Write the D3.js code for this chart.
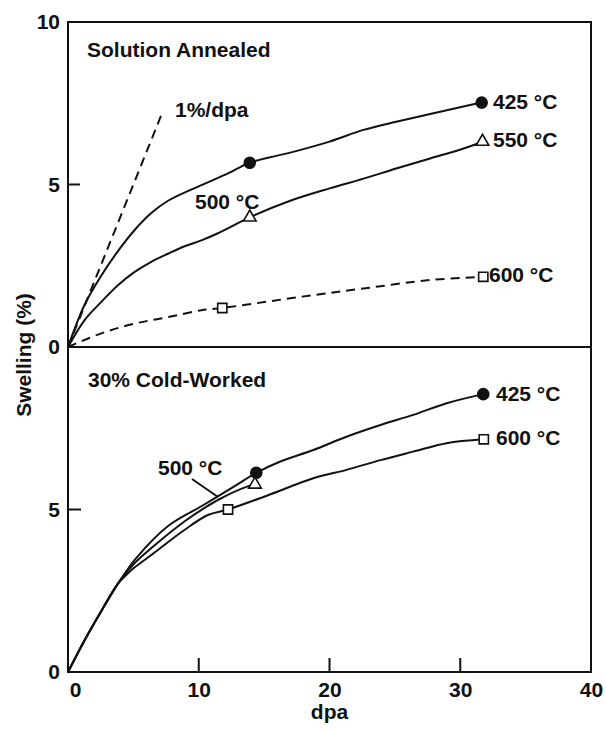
<!DOCTYPE html>
<html lang="en">
<head>
<meta charset="utf-8">
<title>Swelling vs dpa</title>
<script src="https://cdn.jsdelivr.net/npm/d3@7"></script>
<style>
  body { margin: 0; background: #fff; }
  text { font-family: "Liberation Sans", Arial, sans-serif; font-weight: bold; fill: #111; }
</style>
</head>
<body>
<script>
//----------------------------------------------------------------------------//
// Data (dpa, swelling %)

// Solution annealed
var sa425_x = [0, 1.27, 2.55, 3.82, 5.1, 6.37, 7.65, 10.2, 12.24, 13.9, 17, 20, 22.6, 25.1, 27.7, 31.6];
var sa425_y = [0, 1.3, 2.2, 2.95, 3.6, 4.12, 4.5, 4.98, 5.34, 5.67, 5.98, 6.32, 6.68, 6.93, 7.17, 7.52];

var sa500_x = [0, 1.27, 2.55, 3.82, 5.1, 6.37, 7.65, 8.92, 10.2, 11.47, 13.9, 17, 20, 22.6, 25.1, 27.7, 30.2, 31.6];
var sa500_y = [0, 0.83, 1.39, 1.9, 2.31, 2.62, 2.87, 3.1, 3.28, 3.5, 3.99, 4.5, 4.88, 5.18, 5.49, 5.8, 6.1, 6.3];

var sa600_x = [0, 2.55, 5.1, 7.65, 10.2, 11.8, 17.9, 22.6, 27.7, 31.7];
var sa600_y = [0, 0.42, 0.72, 0.92, 1.13, 1.2, 1.55, 1.8, 2.06, 2.16];

var rate_x = [0, 7.2];
var rate_y = [0, 7.2];

// 30% cold-worked
var cw425_x = [0, 1.27, 2.55, 3.82, 4.5, 5.1, 7.65, 10.2, 12.75, 14.4, 16.2, 18.76, 21.3, 23.9, 26.4, 28.96, 31.76];
var cw425_y = [0, 0.98, 1.88, 2.72, 3.12, 3.45, 4.49, 5.1, 5.72, 6.13, 6.47, 6.83, 7.24, 7.6, 7.91, 8.27, 8.55];

var cw500_x = [0, 1.27, 2.55, 3.82, 4.5, 5.1, 6.4, 8.9, 11.5, 13.8, 14.3];
var cw500_y = [0, 0.98, 1.88, 2.72, 3.07, 3.35, 3.82, 4.63, 5.3, 5.72, 5.77];

var cw600_x = [0, 1.27, 2.55, 3.82, 4.5, 5.1, 6.37, 8.9, 10.7, 12.24, 15.3, 18.76, 21.3, 23.9, 26.4, 28.96, 31.8];
var cw600_y = [0, 0.98, 1.88, 2.72, 3.0, 3.22, 3.6, 4.37, 4.83, 5.0, 5.44, 5.96, 6.22, 6.52, 6.78, 7.04, 7.16];

// markers
var saCircle = [[13.9, 5.67], [31.64, 7.52]];
var saTriangle = [[13.9, 3.99], [31.7, 6.32]];
var saSquare = [[11.8, 1.2], [31.76, 2.16]];
var cwCircle = [[14.4, 6.13], [31.76, 8.55]];
var cwTriangle = [[14.3, 5.77]];
var cwSquare = [[12.24, 5.0], [31.8, 7.16]];

var xTicks = [0, 10, 20, 30, 40];
var xTickMarks = [10, 20, 30];
var yTicksTop = [0, 5, 10];
var yTicksBottom = [0, 5];
var yTickMarks = [5];

//----------------------------------------------------------------------------//
// Canvas

var width = 606, height = 730;
var plotLeft = 68, plotRight = 591, plotTop = 22, plotMid = 347, plotBottom = 672;
var fontSize = "21px";

var svg = d3.select("body").append("svg")
    .attr("width", width)
    .attr("height", height);

var x = d3.scaleLinear().domain([0, 40]).range([plotLeft, plotRight]);
var yTop = d3.scaleLinear().domain([0, 10]).range([plotMid, plotTop]);
var yBot = d3.scaleLinear().domain([0, 10]).range([plotBottom, plotMid]);

function zip(a, b) { return a.map(function(v, i){ return [v, b[i]]; }); }

//----------------------------------------------------------------------------//
// Axes: labels from d3.axis, frame + inward ticks as one path

var gTopAxis = svg.append("g").attr("transform", "translate(" + plotLeft + ",0)")
    .call(d3.axisLeft(yTop).tickValues(yTicksTop).tickSize(0).tickPadding(8));
var gBotAxis = svg.append("g").attr("transform", "translate(" + plotLeft + ",0)")
    .call(d3.axisLeft(yBot).tickValues(yTicksBottom).tickSize(0).tickPadding(8));
var gXAxis = svg.append("g").attr("transform", "translate(0," + plotBottom + ")")
    .call(d3.axisBottom(x).tickValues(xTicks).tickSize(0).tickPadding(10));

[gTopAxis, gBotAxis, gXAxis].forEach(function(g){
    g.select(".domain").remove();
    g.selectAll(".tick line").remove();
    g.selectAll(".tick text").style("font-size", fontSize).attr("fill", "#111");
});
gXAxis.selectAll(".tick text").filter(function(d){ return d == 0; }).attr("dx", 7);

var frame = d3.path();
frame.moveTo(plotLeft, plotTop);
frame.lineTo(plotRight, plotTop);
frame.lineTo(plotRight, plotBottom);
frame.lineTo(plotLeft, plotBottom);
frame.closePath();
frame.moveTo(plotLeft, plotMid);
frame.lineTo(plotRight, plotMid);
yTickMarks.forEach(function(v){
    frame.moveTo(plotLeft, yTop(v));
    frame.lineTo(plotLeft + 12, yTop(v));
    frame.moveTo(plotLeft, yBot(v));
    frame.lineTo(plotLeft + 13, yBot(v));
});
xTickMarks.forEach(function(v){
    frame.moveTo(x(v), plotBottom);
    frame.lineTo(x(v), plotBottom - 14);
});

svg.append("path")
    .attr("d", frame.toString())
    .attr("fill", "none")
    .attr("stroke", "#111")
    .attr("stroke-width", 2);

// axis titles
svg.append("text")
    .attr("x", x(20)).attr("y", 719)
    .attr("text-anchor", "middle")
    .style("font-size", fontSize)
    .text("dpa");

svg.append("text")
    .attr("transform", "translate(31,355) rotate(-90)")
    .attr("text-anchor", "middle")
    .style("font-size", fontSize)
    .text("Swelling (%)");

//----------------------------------------------------------------------------//
// Curves

function drawCurve(xs, ys, yScale, dashed) {
    var line = d3.line()
        .x(function(d){ return x(d[0]); })
        .y(function(d){ return yScale(d[1]); })
        .curve(d3.curveCatmullRom.alpha(0.5));
    svg.append("path")
        .attr("d", line(zip(xs, ys)))
        .attr("fill", "none")
        .attr("stroke", "#111")
        .attr("stroke-width", 2)
        .attr("stroke-dasharray", dashed ? "9,6" : null);
}

drawCurve(rate_x, rate_y, yTop, true);
drawCurve(sa425_x, sa425_y, yTop, false);
drawCurve(sa500_x, sa500_y, yTop, false);
drawCurve(sa600_x, sa600_y, yTop, true);

drawCurve(cw425_x, cw425_y, yBot, false);
drawCurve(cw500_x, cw500_y, yBot, false);
drawCurve(cw600_x, cw600_y, yBot, false);

//----------------------------------------------------------------------------//
// Markers

function drawMarkers(pts, yScale, type) {
    var sym = type == "circle" ? d3.symbolCircle : (type == "triangle" ? d3.symbolTriangle : d3.symbolSquare);
    var size = type == "circle" ? 95 : (type == "triangle" ? 70 : 85);
    svg.selectAll(null).data(pts).enter().append("path")
        .attr("transform", function(d){ return "translate(" + x(d[0]) + "," + yScale(d[1]) + ")"; })
        .attr("d", d3.symbol().type(sym).size(size))
        .attr("fill", type == "circle" ? "#111" : "#fff")
        .attr("stroke", "#111")
        .attr("stroke-width", 1.6);
}

drawMarkers(saCircle, yTop, "circle");
drawMarkers(saTriangle, yTop, "triangle");
drawMarkers(saSquare, yTop, "square");
drawMarkers(cwCircle, yBot, "circle");
drawMarkers(cwTriangle, yBot, "triangle");
drawMarkers(cwSquare, yBot, "square");

//----------------------------------------------------------------------------//
// Labels

function label(px, py, txt) {
    svg.append("text")
        .attr("x", px).attr("y", py)
        .attr("dy", "0.35em")
        .style("font-size", fontSize)
        .text(txt);
}

label(87, 50, "Solution Annealed");
label(175, 110, "1%/dpa");
label(195, 202, "500 °C");
label(493, 102, "425 °C");
label(493, 140, "550 °C");
label(489, 275, "600 °C");

label(88, 380, "30% Cold-Worked");
label(158, 468, "500 °C");
label(496, 394, "425 °C");
label(496, 438, "600 °C");

// leader for 500 °C (cold-worked)
svg.append("line")
    .attr("x1", 192).attr("y1", 479).attr("x2", 218).attr("y2", 497)
    .attr("stroke", "#111").attr("stroke-width", 2);
</script>
</body>
</html>
